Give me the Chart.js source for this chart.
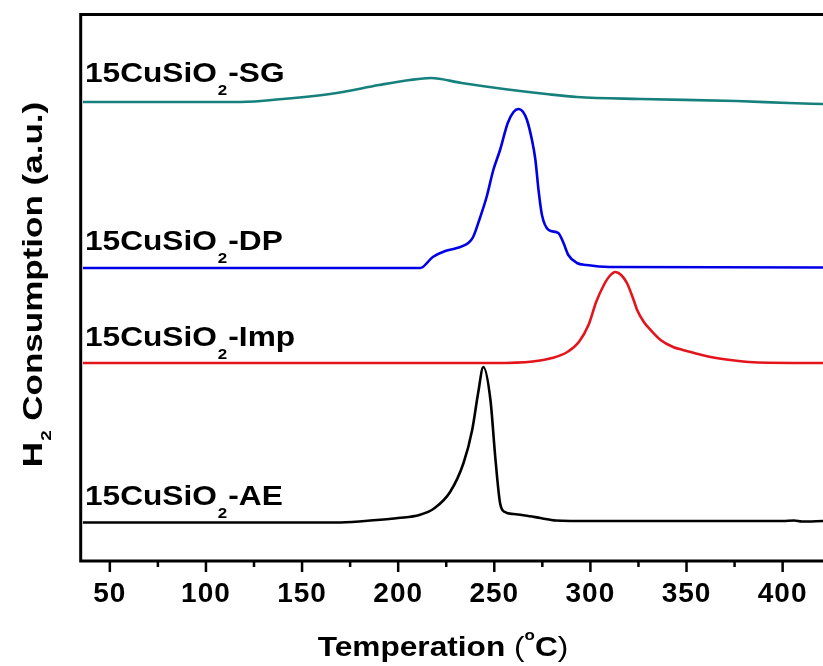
<!DOCTYPE html>
<html>
<head>
<meta charset="utf-8">
<script src="https://cdn.jsdelivr.net/npm/chart.js@4.4.1/dist/chart.umd.min.js"></script>
<style>
  html, body { margin: 0; padding: 0; background: #fff; }
  canvas { display: block; }
</style>
</head>
<body>
<canvas id="tpr" width="823" height="666"></canvas>
<script>
// temperature (°C) and H2 signal (a.u., curves are offset vertically like the original)
const tempAE = [36, 100, 170, 189, 200, 211, 219, 227, 234, 238.5, 241.6, 244.3, 248, 250.5, 253, 255.5, 260, 266, 274, 282, 300, 350, 400, 406, 410, 421];
const h2AE   = [0.385, 0.385, 0.385, 0.41, 0.43, 0.46, 0.53, 0.69, 0.98, 1.31, 1.68, 1.94, 1.61, 1.04, 0.58, 0.49, 0.47, 0.455, 0.43, 0.405, 0.40, 0.40, 0.40, 0.405, 0.395, 0.40];

const tempImp = [36, 150, 250, 270, 280, 288, 294, 299, 303, 307, 310, 313, 316, 319, 322.5, 324.3, 327.8, 331.3, 336.5, 343, 348, 354, 364, 375, 387, 421];
const h2Imp   = [1.98, 1.98, 1.98, 1.995, 2.03, 2.09, 2.19, 2.36, 2.59, 2.76, 2.85, 2.89, 2.86, 2.78, 2.61, 2.51, 2.39, 2.31, 2.21, 2.14, 2.11, 2.08, 2.035, 2.005, 1.985, 1.98];

const tempDP = [36, 150, 211.5, 218, 224.5, 230.5, 236.5, 239, 242.7, 246, 249.5, 253, 257, 260, 262.5, 265, 267, 269.6, 271.4, 273, 274.8, 278.3, 283.3, 286, 288.5, 293, 298, 310, 421];
const h2DP   = [2.93, 2.93, 2.93, 3.04, 3.10, 3.13, 3.18, 3.24, 3.44, 3.64, 3.91, 4.11, 4.38, 4.49, 4.52, 4.49, 4.41, 4.21, 4.01, 3.71, 3.46, 3.31, 3.28, 3.18, 3.06, 2.98, 2.96, 2.94, 2.935];

const tempSG = [36, 118, 140, 168, 190, 206, 217, 233, 255, 277, 293, 326, 376, 403, 421];
const h2SG   = [4.59, 4.59, 4.62, 4.68, 4.76, 4.81, 4.83, 4.78, 4.72, 4.67, 4.64, 4.62, 4.60, 4.58, 4.57];

const sampleSuffix = ['AE', 'Imp', 'DP', 'SG'];
const sampleColors = ['#000000', '#e3141c', '#0000e6', '#15807c'];
const majorTicks = [50, 100, 150, 200, 250, 300, 350, 400];
const minorTicks = [75, 125, 175, 225, 275, 325, 375];

const toPoints = (xs, ys) => xs.map((x, i) => ({ x: x, y: ys[i] }));
const seriesData = [toPoints(tempAE, h2AE), toPoints(tempImp, h2Imp), toPoints(tempDP, h2DP), toPoints(tempSG, h2SG)];

// label baselines in data units (a bit above each flat baseline)
const labelY = [0.56, 2.15, 3.11, 4.79];

const FONT = '"Liberation Sans", Arial, sans-serif';

function wideText(ctx, str, x, y, sx) {
    ctx.save();
    ctx.translate(x, y);
    ctx.scale(sx, 1);
    ctx.fillText(str, 0, 0);
    ctx.restore();
    return ctx.measureText(str).width * sx;
}

const framePlugin = {
    id: 'frame',
    beforeDraw(chart) {
        chart.ctx.letterSpacing = '1px';
    },
    afterDraw(chart) {
        const { ctx, chartArea: a, scales } = chart;
        const xs = scales.x, ys = scales.y;
        ctx.save();
        ctx.letterSpacing = '0px';
        ctx.strokeStyle = '#000';
        ctx.lineWidth = 3;
        ctx.beginPath();
        ctx.moveTo(a.right + 5, a.top + 0.5);
        ctx.lineTo(a.left - 0.3, a.top + 0.5);
        ctx.lineTo(a.left - 0.3, a.bottom);
        ctx.lineTo(a.right + 5, a.bottom);
        ctx.stroke();

        ctx.lineWidth = 2.5;
        majorTicks.forEach(v => {
            const px = xs.getPixelForValue(v);
            ctx.beginPath(); ctx.moveTo(px, a.bottom); ctx.lineTo(px, a.bottom + 11); ctx.stroke();
        });
        minorTicks.forEach(v => {
            const px = xs.getPixelForValue(v);
            ctx.beginPath(); ctx.moveTo(px, a.bottom); ctx.lineTo(px, a.bottom + 6); ctx.stroke();
        });

        // sample labels
        ctx.fillStyle = '#000';
        ctx.textBaseline = 'alphabetic';
        ctx.textAlign = 'left';
        sampleSuffix.forEach((s, i) => {
            const by = ys.getPixelForValue(labelY[i]);
            let x = 85;
            ctx.font = 'bold 28px ' + FONT;
            x += wideText(ctx, '15CuSiO', x, by, 1.13);
            ctx.font = 'bold 15px ' + FONT;
            x += wideText(ctx, '2', x + 1, by + 13, 1.13) + 2;
            ctx.font = 'bold 28px ' + FONT;
            wideText(ctx, '-' + s, x, by, 1.13);
        });

        // x title
        const sx = 1.13;
        ctx.font = 'bold 28px ' + FONT;
        const w1 = ctx.measureText('Temperation ').width * sx;
        ctx.font = '28px ' + FONT;
        const wp = ctx.measureText('(').width * sx;
        ctx.font = 'bold 15px ' + FONT;
        const wo = ctx.measureText('o').width * sx;
        ctx.font = 'bold 28px ' + FONT;
        const wc = ctx.measureText('C').width * sx;
        const total = w1 + wp + wo + wc + wp;
        let tx = 443 - total / 2;
        const ty = 656;
        ctx.font = 'bold 28px ' + FONT;
        tx += wideText(ctx, 'Temperation ', tx, ty, sx);
        ctx.font = '28px ' + FONT;
        tx += wideText(ctx, '(', tx, ty, sx);
        ctx.font = 'bold 15px ' + FONT;
        tx += wideText(ctx, 'o', tx, ty - 16, sx);
        ctx.font = 'bold 28px ' + FONT;
        tx += wideText(ctx, 'C', tx, ty, sx);
        ctx.font = '28px ' + FONT;
        wideText(ctx, ')', tx, ty, sx);

        // y title
        ctx.save();
        ctx.translate(42, 285);
        ctx.rotate(-Math.PI / 2);
        const sy = 1.25;
        ctx.font = 'bold 28px ' + FONT;
        const wh = ctx.measureText('H').width * sy;
        const wr = ctx.measureText(' Consumption (a.u.)').width * sy;
        ctx.font = 'bold 15px ' + FONT;
        const w2 = ctx.measureText('2').width * sy;
        let yx = -(wh + w2 + wr) / 2;
        ctx.font = 'bold 28px ' + FONT;
        yx += wideText(ctx, 'H', yx, 0, sy);
        ctx.font = 'bold 15px ' + FONT;
        yx += wideText(ctx, '2', yx + 1, 9, sy) + 1;
        ctx.font = 'bold 28px ' + FONT;
        wideText(ctx, ' Consumption (a.u.)', yx, 0, sy);
        ctx.restore();

        ctx.restore();
    }
};

new Chart(document.getElementById('tpr'), {
    type: 'line',
    data: {
        datasets: seriesData.map((d, i) => ({
            label: '15CuSiO2-' + sampleSuffix[i],
            data: d,
            borderColor: sampleColors[i],
            borderWidth: 2.6,
            pointRadius: 0,
            fill: false,
            cubicInterpolationMode: 'monotone'
        }))
    },
    options: {
        responsive: false,
        animation: false,
        layout: { padding: { left: 81, top: 14, right: 0, bottom: 0 } },
        plugins: { legend: { display: false }, tooltip: { enabled: false } },
        scales: {
            x: {
                type: 'linear',
                min: 35,
                max: 421,
                afterBuildTicks: (scale) => { scale.ticks = majorTicks.map(v => ({ value: v })); },
                afterFit: (scale) => { scale.height = 105; },
                grid: { display: false, drawTicks: false },
                border: { display: false },
                ticks: {
                    autoSkip: false,
                    maxRotation: 0,
                    padding: 16,
                    color: '#000',
                    font: { family: FONT, size: 28, weight: 'bold' }
                }
            },
            y: {
                display: false,
                min: 0,
                max: 5.47
            }
        }
    },
    plugins: [framePlugin]
});
</script>
</body>
</html>
